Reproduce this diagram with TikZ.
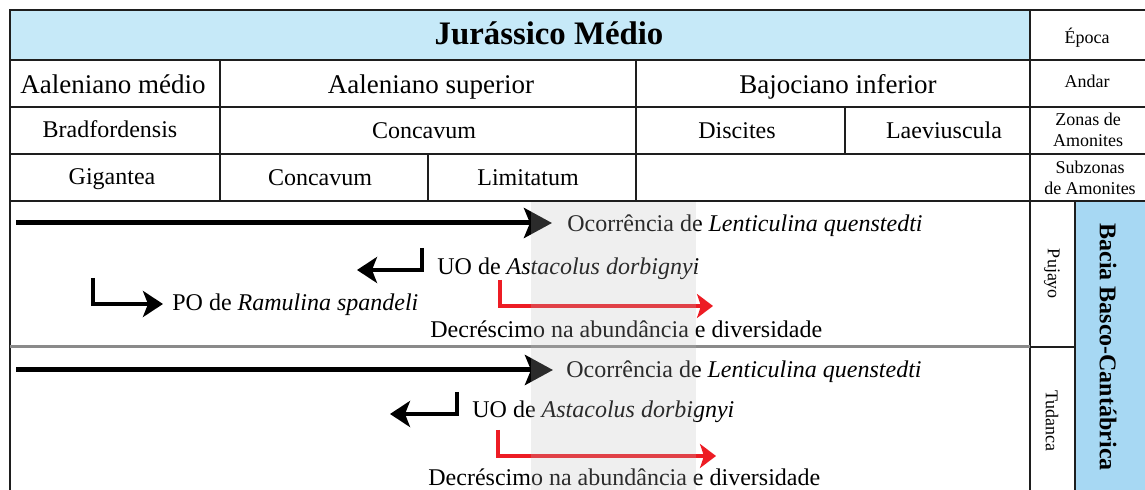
\documentclass[tikz,border=0pt]{standalone}
\usepackage{fontspec}
\setmainfont{Liberation Serif}
\usetikzlibrary{arrows.meta}
\definecolor{hdrblue}{RGB}{198,233,248}
\definecolor{basinblue}{RGB}{167,216,243}
\definecolor{gridline}{RGB}{30,30,30}
\definecolor{divgray}{RGB}{138,138,138}
\definecolor{arrred}{RGB}{237,28,36}
\definecolor{bandgray}{RGB}{189,189,189}
\tikzset{
  grid/.style={draw=gridline, line width=0.7pt},
  big/.style={font=\fontsize{13.5pt}{15pt}\selectfont, inner sep=0pt, anchor=base},
  mid/.style={font=\fontsize{12pt}{14pt}\selectfont, inner sep=0pt, anchor=base},
  small/.style={font=\fontsize{9pt}{10.5pt}\selectfont, inner sep=0pt, align=center},
  lbl/.style={font=\fontsize{12pt}{14pt}\selectfont, inner sep=0pt, anchor=base west},
  mainarrow/.style={line width=2.5pt, -{Stealth[length=14pt, width=15pt, inset=3pt]}},
  elbowarrow/.style={line width=2pt, -{Stealth[length=10pt, width=13pt, inset=2.5pt]}},
  redarrow/.style={draw=arrred, line width=2pt, -{Stealth[length=8pt, width=12pt, inset=2pt]}},
}
\begin{document}
\begin{tikzpicture}[x=0.5pt,y=-0.5pt]
\useasboundingbox (0,0) rectangle (1145,490);
\fill[white] (0,0) rectangle (1145,490);
% fills
\fill[hdrblue] (10,10) rectangle (1030,60);
\fill[basinblue] (1075,201) rectangle (1146,491);
% grid
\draw[grid] (10,491) -- (10,10) -- (1146,10);
\draw[grid] (10,60) -- (1146,60);
\draw[grid] (10,107) -- (1146,107);
\draw[grid] (10,154) -- (1146,154);
\draw[grid] (10,201) -- (1146,201);
\draw[grid] (1030,10) -- (1030,491);
\draw[grid] (1075,201) -- (1075,491);
\draw[grid] (220,60) -- (220,201);
\draw[grid] (636,60) -- (636,201);
\draw[grid] (845,107) -- (845,154);
\draw[grid] (428,154) -- (428,201);
\draw[divgray, line width=1.5pt] (10,347) -- (1030,347);
\draw[grid] (1030,347) -- (1075,347);
% header texts
\node[font=\fontsize{16.4pt}{18pt}\selectfont\bfseries, inner sep=0pt, anchor=base] (epoch) at (549,45) {Jurássico Médio};
\node[small, anchor=base] (epocalbl) at (1087,44) {Época};
\node[big] (aalmed) at (113,94) {Aaleniano médio};
\node[big] (aalsup) at (431,94) {Aaleniano superior};
\node[big] (bajinf) at (838,94) {Bajociano inferior};
\node[small, anchor=base] (andarlbl) at (1087,88) {Andar};
\node[mid] (bradf) at (110,138) {Bradfordensis};
\node[mid] (concz) at (424,139) {Concavum};
\node[mid] (disc) at (737,139) {Discites};
\node[mid] (laev) at (944,139) {Laeviuscula};
\node[small] (zonaslbl) at (1088,130) {Zonas de\\Amonites};
\node[mid] (gigan) at (112,185) {Gigantea};
\node[mid] (concs) at (320,186) {Concavum};
\node[mid] (limit) at (528,186) {Limitatum};
\node[small] (subzlbl) at (1090,178) {Subzonas\\de Amonites};
% right labels
\node[small, rotate=-90] (pujayo) at (1052,274) {Pujayo};
\node[small, rotate=-90] (tudanca) at (1052,421) {Tudanca};
\node[font=\fontsize{12pt}{14pt}\selectfont\bfseries, inner sep=0pt, rotate=-90] (bacia) at (1108,347) {Bacia Basco-Cantábrica};
% section 1 (Pujayo)
\node[lbl] (occ1) at (567,232) {Ocorrência de \textit{Lenticulina quenstedti}};
\node[lbl] (uo1) at (437,275) {UO de \textit{Astacolus dorbignyi}};
\node[lbl] (po1) at (172,311) {PO de \textit{Ramulina spandeli}};
\node[lbl] (dec1) at (430,338) {Decréscimo na abundância e diversidade};
\coordinate (m1s) at (16,223);
\coordinate (m1e) at (552,223);
\draw[mainarrow] (m1s) -- (m1e);
\coordinate (e1s) at (422,248);
\coordinate (e1e) at (357,270);
\draw[elbowarrow] (e1s) |- (e1e);
\coordinate (p1s) at (93,278);
\coordinate (p1e) at (163,304);
\draw[elbowarrow] (p1s) |- (p1e);
\coordinate (r1s) at (500,280);
\coordinate (r1e) at (713,306);
\draw[redarrow] (r1s) |- (r1e);
% section 2 (Tudanca)
\node[lbl] (occ2) at (566,378) {Ocorrência de \textit{Lenticulina quenstedti}};
\node[lbl] (uo2) at (472,418) {UO de \textit{Astacolus dorbignyi}};
\node[lbl] (dec2) at (428,486) {Decréscimo na abundância e diversidade};
\coordinate (m2s) at (16,370);
\coordinate (m2e) at (553,370);
\draw[mainarrow] (m2s) -- (m2e);
\coordinate (e2s) at (457,392);
\coordinate (e2e) at (390,414);
\draw[elbowarrow] (e2s) |- (e2e);
\coordinate (r2s) at (498,430);
\coordinate (r2e) at (716,456);
\draw[redarrow] (r2s) |- (r2e);
% translucent band
\fill[bandgray, fill opacity=0.23] (531,202) rectangle (696,491);
\end{tikzpicture}
\end{document}
